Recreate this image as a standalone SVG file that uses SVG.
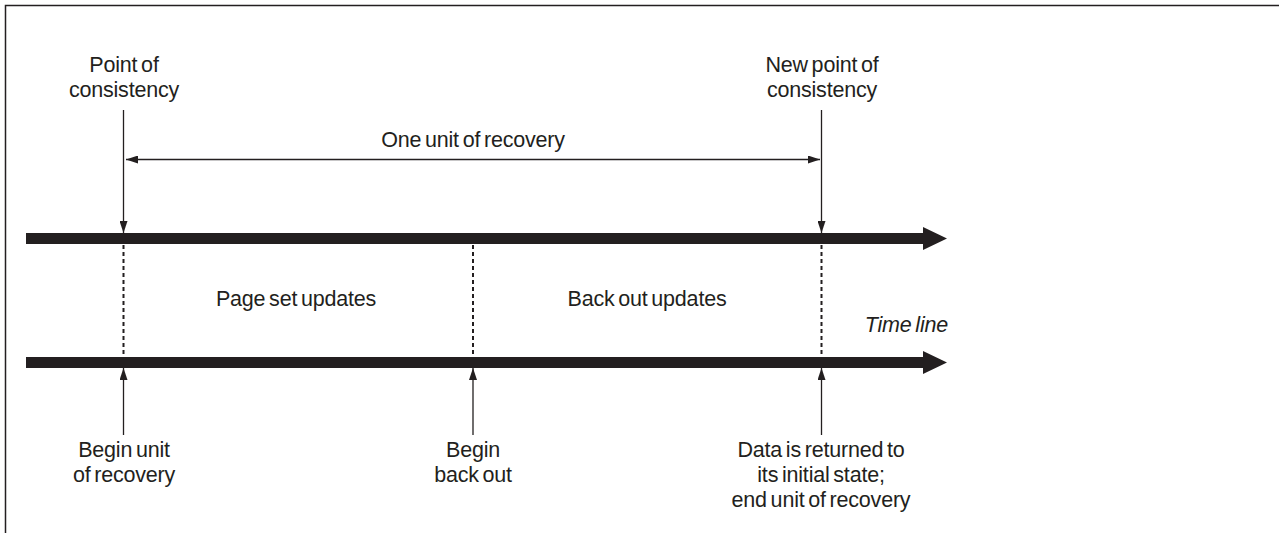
<svg xmlns="http://www.w3.org/2000/svg" width="1279" height="533" viewBox="0 0 1279 533">
  <defs>
    <style>
      .t { font-family: "Liberation Sans", Arial, sans-serif; font-size: 21.5px; fill: #231f20; text-anchor: middle; word-spacing: -2px; letter-spacing: -0.2px; }
      .it { font-style: italic; text-anchor: end; }
      .ln { stroke: #231f20; stroke-width: 1.3; fill: none; }
      .dash { stroke: #231f20; stroke-width: 2; stroke-dasharray: 4 3; fill: none; }
      .bar { fill: #231f20; }
    </style>
    <marker id="ah" viewBox="0 0 12 8" refX="12" refY="4" markerWidth="12" markerHeight="8" markerUnits="userSpaceOnUse" orient="auto">
      <path d="M0,0 L12,4 L0,8 Z" fill="#231f20"/>
    </marker>
  </defs>
  <rect x="5.5" y="5.5" width="1300" height="600" fill="#ffffff" stroke="#231f20" stroke-width="1.5"/>

  <g id="timeline-top">
    <path class="bar" d="M26,233 L923,233 L923,227 L947,238.5 L923,250 L923,244 L26,244 Z"/>
  </g>
  <g id="timeline-bottom">
    <path class="bar" d="M26,357 L923,357 L923,351 L947,362.5 L923,374 L923,368 L26,368 Z"/>
    <text class="t it" x="948" y="332">Time line</text>
  </g>

  <g id="connectors">
    <line class="ln" x1="123.5" y1="110" x2="123.5" y2="233" marker-end="url(#ah)"/>
    <line class="ln" x1="821.5" y1="110" x2="821.5" y2="233" marker-end="url(#ah)"/>
    <line class="ln" x1="473" y1="159.5" x2="126" y2="159.5" marker-end="url(#ah)"/>
    <line class="ln" x1="473" y1="159.5" x2="820" y2="159.5" marker-end="url(#ah)"/>
    <line class="dash" x1="123.5" y1="245" x2="123.5" y2="357"/>
    <line class="dash" x1="473" y1="245" x2="473" y2="357"/>
    <line class="dash" x1="821.5" y1="245" x2="821.5" y2="357"/>
    <line class="ln" x1="123.5" y1="435" x2="123.5" y2="368" marker-end="url(#ah)"/>
    <line class="ln" x1="473" y1="435" x2="473" y2="368" marker-end="url(#ah)"/>
    <line class="ln" x1="821.5" y1="435" x2="821.5" y2="368" marker-end="url(#ah)"/>
  </g>

  <g id="point-of-consistency">
    <text class="t" x="124" y="72">Point of</text>
    <text class="t" x="124" y="97">consistency</text>
  </g>
  <g id="new-point-of-consistency">
    <text class="t" x="822" y="72">New point of</text>
    <text class="t" x="822" y="97">consistency</text>
  </g>
  <g id="one-unit-of-recovery">
    <text class="t" x="473" y="147">One unit of recovery</text>
  </g>
  <g id="page-set-updates">
    <text class="t" x="296" y="306">Page set updates</text>
  </g>
  <g id="back-out-updates">
    <text class="t" x="647" y="306">Back out updates</text>
  </g>
  <g id="begin-unit-of-recovery">
    <text class="t" x="124" y="457">Begin unit</text>
    <text class="t" x="124" y="482">of recovery</text>
  </g>
  <g id="begin-back-out">
    <text class="t" x="473" y="457">Begin</text>
    <text class="t" x="473" y="482">back out</text>
  </g>
  <g id="data-returned">
    <text class="t" x="821" y="457">Data is returned to</text>
    <text class="t" x="821" y="482">its initial state;</text>
    <text class="t" x="821" y="507">end unit of recovery</text>
  </g>
</svg>
